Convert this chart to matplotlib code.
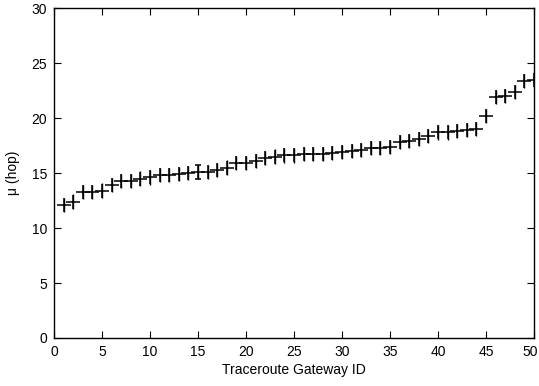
import matplotlib
matplotlib.use("Agg")
import matplotlib.pyplot as plt
import matplotlib.transforms as mtransforms
import numpy as np

# gateway IDs and mean hop counts
gateway_id = np.arange(1, 51)
mu_hop = np.array([12.1, 12.4, 13.3, 13.3, 13.4, 13.9, 14.3, 14.3, 14.5, 14.6,
                   14.8, 14.8, 14.9, 15.0, 15.1, 15.1, 15.3, 15.5, 15.9, 15.9,
                   16.1, 16.4, 16.5, 16.6, 16.6, 16.7, 16.7, 16.7, 16.8, 16.9,
                   17.0, 17.1, 17.3, 17.3, 17.4, 17.8, 17.9, 18.1, 18.4, 18.7,
                   18.7, 18.8, 18.9, 19.0, 20.2, 21.9, 22.0, 22.4, 23.4, 23.5])
mu_err = np.full(50, 0.65)
capped = np.zeros(50, dtype=bool)
capped[14] = True

plt.rcParams['font.family'] = ['Liberation Sans', 'DejaVu Sans']

fig = plt.figure(figsize=(5.39, 3.86), dpi=100)
ax = fig.add_axes([0.1002, 0.1244, 0.8905, 0.8546])

ax.errorbar(gateway_id[~capped], mu_hop[~capped], yerr=mu_err[~capped], fmt='+',
            color='black', markersize=10, markeredgewidth=1.1, elinewidth=1.0, capsize=0)
ax.errorbar(gateway_id[capped], mu_hop[capped], yerr=mu_err[capped], fmt='+',
            color='black', markersize=10, markeredgewidth=1.1, elinewidth=1.0, capsize=2)

ax.set_xlim(0, 50)
ax.set_ylim(0, 30)
ax.set_xticks(range(0, 51, 5))
ax.set_yticks(range(0, 31, 5))
ax.tick_params(direction='in', top=True, right=True, labelsize=10, length=5, pad=5)
ax.set_xlabel("Traceroute Gateway ID", fontsize=10, labelpad=3)
ax.set_ylabel("\u03bc (hop)", fontsize=10, labelpad=8)
for s in ax.spines.values():
    s.set_linewidth(1.0)

# keep the last x tick label inside the canvas
last = ax.get_xticklabels()[-1]
last.set_transform(last.get_transform() + mtransforms.ScaledTranslation(-4 / 100, 0, fig.dpi_scale_trans))

fig.savefig("out.png", dpi=100)
